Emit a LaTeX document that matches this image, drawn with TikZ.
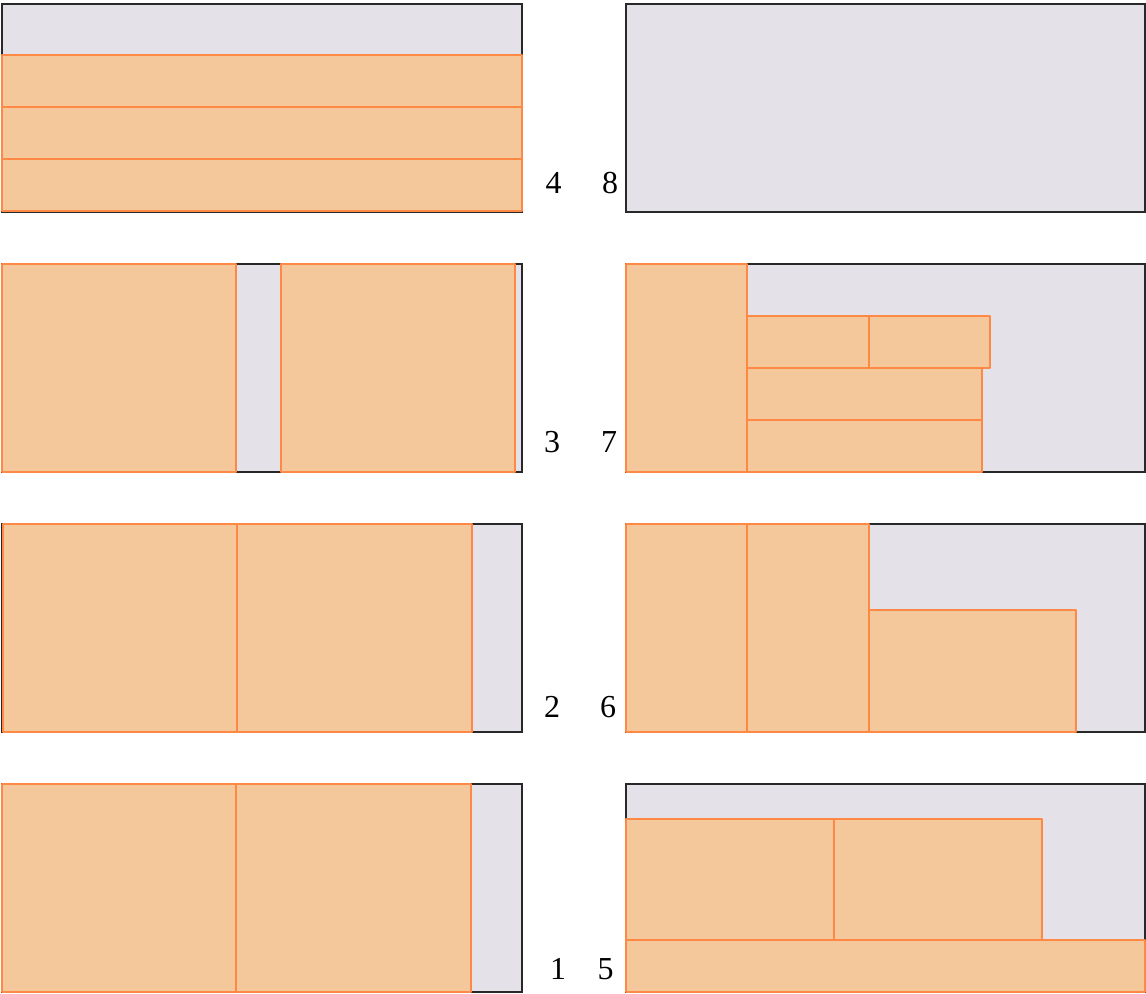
\documentclass[tikz,border=0pt]{standalone}
\usepackage{fontspec}
\setmainfont{Liberation Serif}
\definecolor{binfill}{RGB}{228,225,232}
\definecolor{binline}{RGB}{40,40,40}
\definecolor{itemfill}{RGB}{245,200,156}
\definecolor{itemline}{RGB}{255,136,69}
\tikzset{
  bin/.style={fill=binfill,draw=binline,line width=0.8pt},
  item/.style={fill=itemfill,draw=itemline,line width=2.1pt,line join=round},
  lab/.style={anchor=base,inner sep=0pt,font=\fontsize{24pt}{28pt}\selectfont}
}
\begin{document}
\begin{tikzpicture}[x=0.75pt,y=-0.75pt]
\useasboundingbox (0,0) rectangle (1146,994);
% ---- left column ----
% panel 4
\draw[bin] (2,4) rectangle (522,212);
\draw[item] (2,55) rectangle (522,107);
\draw[item] (2,107) rectangle (522,159);
\draw[item] (2,159) rectangle (522,211);
% panel 3
\draw[bin] (2,264) rectangle (522,472);
\draw[item] (2,264) rectangle (236,472);
\draw[item] (281,264) rectangle (515,472);
% panel 2
\draw[bin] (2,524) rectangle (522,732);
\draw[item] (3,524) rectangle (237,732);
\draw[item] (237,524) rectangle (472,732);
% panel 1
\draw[bin] (2,784) rectangle (522,992);
\draw[item] (2,784) rectangle (236,992);
\draw[item] (236,784) rectangle (471,992);
% ---- right column ----
% panel 8
\draw[bin] (626,4) rectangle (1145,212);
% panel 7
\draw[bin] (626,264) rectangle (1145,472);
\draw[item] (626,264) rectangle (747,472);
\draw[item] (747,316) rectangle (869,368);
\draw[item] (869,316) rectangle (990,368);
\draw[item] (747,368) rectangle (982,420);
\draw[item] (747,420) rectangle (982,472);
% panel 6
\draw[bin] (626,524) rectangle (1145,732);
\draw[item] (626,524) rectangle (747,732);
\draw[item] (747,524) rectangle (869,732);
\draw[item] (869,610) rectangle (1076,732);
% panel 5
\draw[bin] (626,784) rectangle (1145,992);
\draw[item] (626,819) rectangle (834,940);
\draw[item] (834,819) rectangle (1042,940);
\draw[item] (626,940) rectangle (1145,992);
% ---- labels ----
\node[lab] (l4) at (553.5,194) {4};
\node[lab] (l8) at (610,194) {8};
\node[lab] (l3) at (552,453) {3};
\node[lab] (l7) at (609,453) {7};
\node[lab] (l2) at (552,717) {2};
\node[lab] (l6) at (608,717) {6};
\node[lab] (l1) at (558,979) {1};
\node[lab] (l5) at (605.5,979) {5};
\end{tikzpicture}
\end{document}
